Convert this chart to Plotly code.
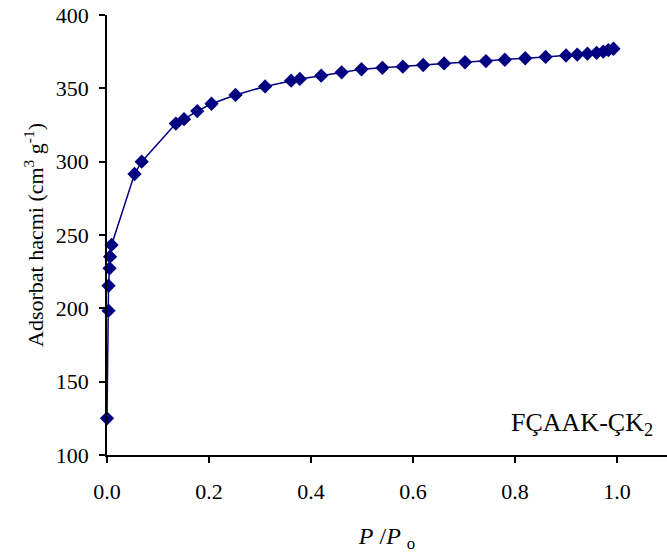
import plotly.graph_objects as go

# Relative pressure P/Po
p_rel = [0.0, 0.003, 0.003, 0.005, 0.006, 0.009, 0.054, 0.068,
         0.135, 0.151, 0.177, 0.205, 0.252, 0.310, 0.361, 0.378,
         0.420, 0.460, 0.499, 0.540, 0.580, 0.620, 0.661, 0.702,
         0.743, 0.780, 0.820, 0.860, 0.900, 0.922, 0.942, 0.960,
         0.973, 0.983, 0.993]
# Adsorbed volume (cm3 g-1)
volume = [125.0, 198.4, 215.4, 227.3, 235.2, 243.2, 291.6, 300.0,
          326.0, 329.0, 334.5, 339.5, 345.5, 351.3, 355.2, 356.4,
          358.6, 360.9, 363.0, 364.0, 364.8, 365.9, 367.0, 367.8,
          368.6, 369.5, 370.5, 371.4, 372.4, 373.0, 373.6, 374.2,
          375.0, 376.0, 377.0]

x_ticks = [0.0, 0.2, 0.4, 0.6, 0.8, 1.0]
x_tick_labels = ["0.0", "0.2", "0.4", "0.6", "0.8", "1.0"]
y_ticks = [100, 150, 200, 250, 300, 350, 400]

font_family = "Liberation Serif, Times New Roman, serif"
navy = "#000080"

fig = go.Figure()
fig.add_trace(go.Scatter(
    x=p_rel, y=volume, mode="lines+markers",
    line=dict(color=navy, width=1.5),
    marker=dict(symbol="diamond", size=11, color=navy),
    cliponaxis=False, showlegend=False,
))

fig.add_annotation(
    x=1.075, y=121, xref="x", yref="y",
    text="FÇAAK-ÇK<sub>2</sub>", showarrow=False,
    xanchor="right", yanchor="middle",
    font=dict(family=font_family, size=26, color="black"),
)

fig.update_layout(
    width=667, height=558,
    margin=dict(l=107, r=0, t=15, b=103),
    paper_bgcolor="white", plot_bgcolor="white",
    font=dict(family=font_family, size=22, color="black"),
)
fig.update_xaxes(
    range=[0, 1.098], tickvals=x_ticks, ticktext=x_tick_labels,
    showline=True, linecolor="black", linewidth=1.5,
    ticks="outside", ticklen=6, tickwidth=1.5, tickcolor="black",
    ticklabelstandoff=10, ticklabeloverflow="allow",
    showgrid=False, zeroline=False, automargin=False,
    tickfont=dict(family=font_family, size=22),
    title=dict(text="<i>P</i> /<i>P</i> <sub>o</sub>", standoff=24,
               font=dict(family=font_family, size=24)),
)
fig.update_yaxes(
    range=[100, 400], tickvals=y_ticks,
    showline=True, linecolor="black", linewidth=1.5,
    ticks="outside", ticklen=6, tickwidth=1.5, tickcolor="black",
    ticklabelstandoff=6, ticklabeloverflow="allow",
    showgrid=False, zeroline=False, automargin=False,
    tickfont=dict(family=font_family, size=22),
    title=dict(text="Adsorbat hacmi (cm<sup>3</sup> g<sup>-1</sup>)", standoff=6,
               font=dict(family=font_family, size=22)),
)

# remove the default page margin so the figure fills the window exactly
fig.write_html("out.html", config={"displayModeBar": False},
               post_script="document.body.style.margin='0';")
